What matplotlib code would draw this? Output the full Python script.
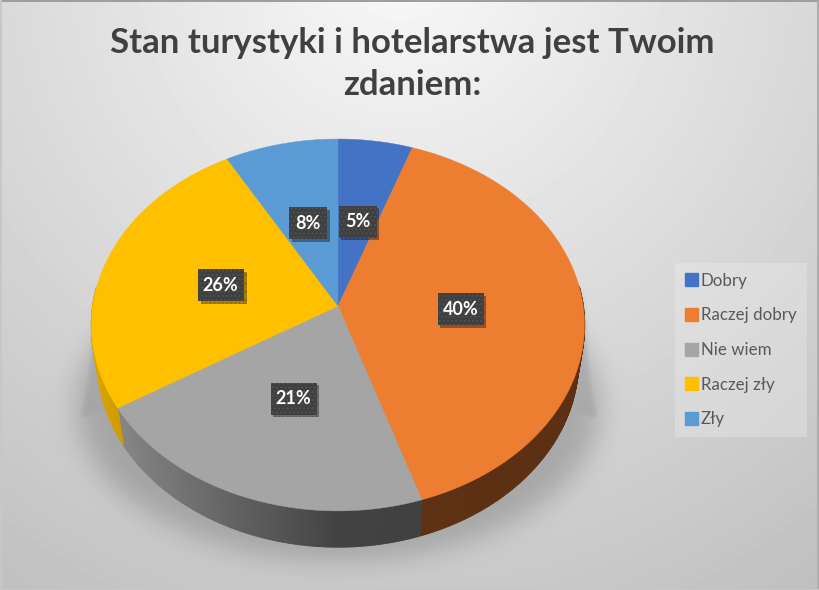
import numpy as np
import matplotlib
matplotlib.use("Agg")
import matplotlib.pyplot as plt
import matplotlib.patheffects as pe
from matplotlib.collections import PolyCollection
from matplotlib.patches import Patch, Polygon, Rectangle
from matplotlib.path import Path

# values
categories = ["Dobry", "Raczej dobry", "Nie wiem", "Raczej zły", "Zły"]
values = [5.4, 39.6, 21.2, 25.6, 8.2]
colors = ["#4472C4", "#ED7D31", "#A5A5A5", "#FFC000", "#5B9BD5"]
title = "Stan turystyki i hotelarstwa jest Twoim\nzdaniem:"

W, H = 819, 590
CX, CY = 338, 306      # where the slices meet
RX, RY, K = 245.2, 184, 0.102   # tilted circle, K is the perspective
DEPTH = 36
RIM = 0.975            # lower rim is a bit narrower than the top

plt.rcParams["font.family"] = ["Lato", "DejaVu Sans"]
plt.rcParams["hatch.linewidth"] = 0.6


def project(angle, r=1.0):
    # angle is clockwise from the top of the pie
    u = r * np.sin(angle)
    v = -r * np.cos(angle)
    w = 1 - K * v
    return CX + RX * u / w, CY + RY * v / w


def blur(img, sigma):
    x = np.arange(-int(3 * sigma), int(3 * sigma) + 1)
    kern = np.exp(-x**2 / (2 * sigma**2))
    kern /= kern.sum()
    img = np.apply_along_axis(lambda a: np.convolve(a, kern, mode="same"), 0, img)
    return np.apply_along_axis(lambda a: np.convolve(a, kern, mode="same"), 1, img)


fig = plt.figure(figsize=(W / 100, H / 100), dpi=100)
ax = fig.add_axes([0, 0, 1, 1])
ax.set_xlim(0, W)
ax.set_ylim(H, 0)
ax.axis("off")

# background
yy, xx = np.mgrid[0:H, 0:W]
dist = np.hypot((xx - 400) / 620, (yy + 40) / 640)
bg = 0.975 - 0.19 * np.clip(dist, 0, 1.2)

# shadow under the pie
ell = ((xx - CX) / 262.0) ** 2 + ((yy - 405) / 155.0) ** 2 < 1
soft = blur(ell.astype(float), 14)
trap = Path([(100, 290), (577, 290), (600, 420), (77, 420)]).contains_points(
    np.c_[xx.ravel(), yy.ravel()]).reshape(H, W)
hard = blur(trap.astype(float), 4)
shadow = np.maximum(soft, hard)
bg = bg * (1 - 0.2 * shadow)

# frame of the picture
bg[:2, :] = 0.62
bg[:, :2] = 0.78
bg[:, -2:] = 0.68
bg[-1:, :] = 0.78
ax.imshow(bg, cmap="gray", vmin=0, vmax=1, extent=(0, W, H, 0), aspect="auto", zorder=0)

edges = np.cumsum([0] + values) / sum(values) * 2 * np.pi

# side of the pie, in thin strips so that it can get darker to the right
strips, strip_cols = [], []
for i, col in enumerate(colors):
    ang = np.linspace(edges[i], edges[i + 1], 200)
    rgb = np.array(matplotlib.colors.to_rgb(col))
    for a0, a1 in zip(ang[:-1], ang[1:]):
        if -np.cos((a0 + a1) / 2) < -0.1:
            continue
        x0, y0 = project(a0)
        x1, y1 = project(a1)
        xb0 = CX + (x0 - CX) * RIM
        xb1 = CX + (x1 - CX) * RIM
        strips.append([(x0, y0), (x1, y1), (xb1, y1 + DEPTH), (xb0, y0 + DEPTH)])
        shade = np.interp((x0 + x1) / 2, [95, 340, 600], [0.85, 0.40, 0.38])
        strip_cols.append(rgb * shade)
ax.add_collection(PolyCollection(strips, facecolors=strip_cols, edgecolors=strip_cols,
                                 linewidths=1.0, zorder=2))

# top of the pie
for i, col in enumerate(colors):
    ang = np.linspace(edges[i], edges[i + 1], 200)
    px, py = project(ang)
    pts = np.r_[[(CX, CY)], np.c_[px, py]]
    ax.add_patch(Polygon(pts, closed=True, facecolor=col, edgecolor=col, linewidth=0.3, zorder=3))

# data labels
for i, val in enumerate(values):
    mid = (edges[i] + edges[i + 1]) / 2
    lx, ly = project(mid, 0.5)
    ly += 2
    label = f"{val:.0f}%"
    bw = 22 + 8 * len(label)
    box = Rectangle((lx - bw / 2, ly - 16), bw, 32, facecolor="#404040", edgecolor="#565656",
                    hatch="....", linewidth=0, zorder=4)
    box.set_path_effects([pe.SimplePatchShadow(offset=(2, -2), shadow_rgbFace="k", alpha=0.35), pe.Normal()])
    ax.add_patch(box)
    ax.text(lx, ly, label, color="white", fontsize=13, fontweight="bold",
            ha="center", va="center", zorder=5)

ax.text(412, 64, title, fontsize=25, fontweight="bold", color="#404040",
        ha="center", va="center", linespacing=1.36, zorder=5)

handles = [Patch(facecolor=c, edgecolor=c) for c in colors]
leg = ax.legend(handles, categories, loc="upper left", bbox_to_anchor=(675 / W, 1 - 263 / H),
                bbox_transform=ax.transAxes, fontsize=12.2, labelcolor="#595959",
                frameon=True, fancybox=False, framealpha=0.3, facecolor="#f2f2f2", edgecolor="none",
                borderaxespad=0, borderpad=0.58, labelspacing=1.1, handlelength=0.8,
                handleheight=0.8, handletextpad=0.15)
leg.set_zorder(5)

fig.savefig("out.png", dpi=100)
